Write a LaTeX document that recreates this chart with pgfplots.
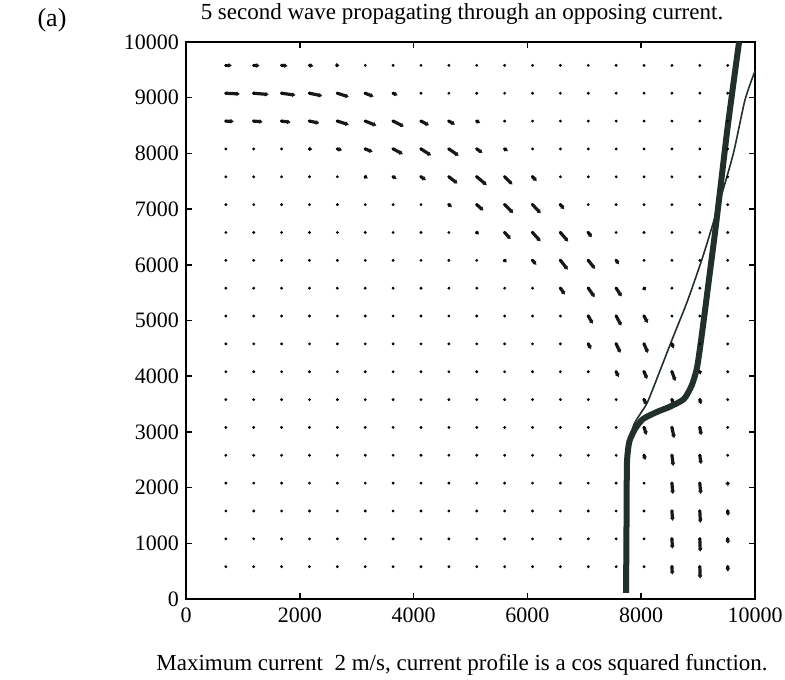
\documentclass[border=0pt]{standalone}
\usepackage{pgfplots}
\pgfplotsset{compat=1.18}
\usepackage{pgfplotstable}
\usetikzlibrary{arrows.meta}
\usepackage{fontspec}
\setmainfont{Liberation Serif}

\definecolor{raycol}{HTML}{22302C}
\definecolor{dotcol}{HTML}{7A7A7A}

% wave-number vectors on the grid (x, y, u, v); zero vectors are drawn as dots only
\pgfplotstableread{
X Y u v
700 9580 106 0
1190 9580 106 -5
1680 9580 106 -9
2170 9580 70 -12
2660 9580 35 -5
700 9080 247 -13
1190 9080 264 -23
1680 9080 245 -35
2170 9080 225 -48
2660 9080 202 -66
3150 9080 148 -60
3640 9080 80 -37
700 8580 141 -7
1190 8580 159 -14
1680 8580 158 -22
2170 8580 173 -37
2660 8580 202 -66
3150 8580 197 -80
3640 8580 189 -97
4130 8580 141 -75
4620 8580 107 -62
5110 8580 61 -36
2170 8080 52 -9
2660 8080 85 -23
3150 8080 131 -54
3640 8080 172 -92
4130 8080 178 -117
4620 8080 174 -123
5110 8080 101 -72
5600 8080 58 -41
3150 7580 46 -27
3640 7580 61 -36
4130 7580 87 -62
4620 7580 153 -121
5110 7580 176 -150
5600 7580 138 -140
6090 7580 75 -76
4620 7080 54 -46
5110 7080 118 -107
5600 7080 150 -152
6090 7080 145 -157
6580 7080 68 -82
5110 6580 40 -36
5600 6580 107 -120
6090 6580 142 -160
6580 6580 137 -164
7070 6580 61 -88
5600 6080 35 -40
6090 6080 68 -82
6580 6080 131 -169
7070 6080 120 -155
7560 6080 51 -73
6580 5580 81 -117
7070 5580 112 -161
7560 5580 96 -150
8050 5580 30 -45
7070 5080 80 -139
7560 5080 91 -174
8050 5080 66 -126
7070 4580 50 -95
7560 4580 75 -162
8050 4580 69 -165
8540 4580 30 -84
7560 4080 45 -97
8050 4080 55 -132
8540 4080 61 -168
9030 4080 14 -52
8050 3580 45 -97
8540 3580 36 -101
9030 3580 23 -86
8050 3080 44 -136
8540 3080 40 -193
9030 3080 25 -141
8050 2580 23 -86
8540 2580 24 -195
9030 2580 22 -160
8540 2080 17 -196
9030 2080 17 -196
9520 2080 5 -54
8540 1580 12 -179
9030 1580 11 -214
9520 1580 8 -89
8540 1080 9 -179
9030 1080 8 -232
9520 1080 5 -89
8540 580 7 -143
9030 580 7 -214
9520 580 4 -89
}\vectors

% ray path (thick)
\pgfplotstableread{
X Y
7733 110
7740 1000
7745 2000
7752 2500
7790 2820
7890 3050
8030 3230
8280 3360
8500 3450
8750 3590
8890 3840
8980 4150
9050 4630
9120 5170
9190 5730
9300 6600
9400 7450
9510 8400
9620 9250
9720 10000
}\raythick

% ray path (thin)
\pgfplotstableread{
X Y
7733 110
7740 1000
7745 2000
7756 2600
7800 2900
7880 3150
8000 3350
8130 3580
8540 4650
8820 5370
9100 6200
9385 7160
9620 8000
9824 8960
10000 9480
}\raythin

\begin{document}
\begin{tikzpicture}
\path[use as bounding box] (-93pt,-40pt) rectangle (299.5pt,299.5pt);
\begin{axis}[
  at={(0,0)}, anchor=south west,
  scale only axis,
  width=284.5pt, height=278.5pt,
  xmin=0, xmax=10000, ymin=0, ymax=10000,
  xtick={0,2000,...,10000}, ytick={0,1000,...,10000},
  xtick pos=both, ytick pos=both,
  tick align=inside,
  major tick length=3pt,
  axis line style={line width=0.8pt},
  every tick/.style={line width=0.8pt, black},
  scaled ticks=false,
  /pgf/number format/1000 sep={},
  /pgf/number format/assume math mode=true,
  ticklabel style={font=\fontsize{11}{13}\selectfont},
  xticklabel style={yshift=-1pt},
  clip=true,
]
% grid dots
\addplot[only marks, mark=*, mark size=0.5pt, draw=none, fill=dotcol] coordinates {
(700,580)(1190,580)(1680,580)(2170,580)(2660,580)(3150,580)(3640,580)(4130,580)(4620,580)(5110,580)(5600,580)(6090,580)(6580,580)(7070,580)(7560,580)(8050,580)(8540,580)(9030,580)(9520,580)
(700,1080)(1190,1080)(1680,1080)(2170,1080)(2660,1080)(3150,1080)(3640,1080)(4130,1080)(4620,1080)(5110,1080)(5600,1080)(6090,1080)(6580,1080)(7070,1080)(7560,1080)(8050,1080)(8540,1080)(9030,1080)(9520,1080)
(700,1580)(1190,1580)(1680,1580)(2170,1580)(2660,1580)(3150,1580)(3640,1580)(4130,1580)(4620,1580)(5110,1580)(5600,1580)(6090,1580)(6580,1580)(7070,1580)(7560,1580)(8050,1580)(8540,1580)(9030,1580)(9520,1580)
(700,2080)(1190,2080)(1680,2080)(2170,2080)(2660,2080)(3150,2080)(3640,2080)(4130,2080)(4620,2080)(5110,2080)(5600,2080)(6090,2080)(6580,2080)(7070,2080)(7560,2080)(8050,2080)(8540,2080)(9030,2080)(9520,2080)
(700,2580)(1190,2580)(1680,2580)(2170,2580)(2660,2580)(3150,2580)(3640,2580)(4130,2580)(4620,2580)(5110,2580)(5600,2580)(6090,2580)(6580,2580)(7070,2580)(7560,2580)(8050,2580)(8540,2580)(9030,2580)(9520,2580)
(700,3080)(1190,3080)(1680,3080)(2170,3080)(2660,3080)(3150,3080)(3640,3080)(4130,3080)(4620,3080)(5110,3080)(5600,3080)(6090,3080)(6580,3080)(7070,3080)(7560,3080)(8050,3080)(8540,3080)(9030,3080)(9520,3080)
(700,3580)(1190,3580)(1680,3580)(2170,3580)(2660,3580)(3150,3580)(3640,3580)(4130,3580)(4620,3580)(5110,3580)(5600,3580)(6090,3580)(6580,3580)(7070,3580)(7560,3580)(8050,3580)(8540,3580)(9030,3580)(9520,3580)
(700,4080)(1190,4080)(1680,4080)(2170,4080)(2660,4080)(3150,4080)(3640,4080)(4130,4080)(4620,4080)(5110,4080)(5600,4080)(6090,4080)(6580,4080)(7070,4080)(7560,4080)(8050,4080)(8540,4080)(9030,4080)(9520,4080)
(700,4580)(1190,4580)(1680,4580)(2170,4580)(2660,4580)(3150,4580)(3640,4580)(4130,4580)(4620,4580)(5110,4580)(5600,4580)(6090,4580)(6580,4580)(7070,4580)(7560,4580)(8050,4580)(8540,4580)(9030,4580)(9520,4580)
(700,5080)(1190,5080)(1680,5080)(2170,5080)(2660,5080)(3150,5080)(3640,5080)(4130,5080)(4620,5080)(5110,5080)(5600,5080)(6090,5080)(6580,5080)(7070,5080)(7560,5080)(8050,5080)(8540,5080)(9030,5080)(9520,5080)
(700,5580)(1190,5580)(1680,5580)(2170,5580)(2660,5580)(3150,5580)(3640,5580)(4130,5580)(4620,5580)(5110,5580)(5600,5580)(6090,5580)(6580,5580)(7070,5580)(7560,5580)(8050,5580)(8540,5580)(9030,5580)(9520,5580)
(700,6080)(1190,6080)(1680,6080)(2170,6080)(2660,6080)(3150,6080)(3640,6080)(4130,6080)(4620,6080)(5110,6080)(5600,6080)(6090,6080)(6580,6080)(7070,6080)(7560,6080)(8050,6080)(8540,6080)(9030,6080)(9520,6080)
(700,6580)(1190,6580)(1680,6580)(2170,6580)(2660,6580)(3150,6580)(3640,6580)(4130,6580)(4620,6580)(5110,6580)(5600,6580)(6090,6580)(6580,6580)(7070,6580)(7560,6580)(8050,6580)(8540,6580)(9030,6580)(9520,6580)
(700,7080)(1190,7080)(1680,7080)(2170,7080)(2660,7080)(3150,7080)(3640,7080)(4130,7080)(4620,7080)(5110,7080)(5600,7080)(6090,7080)(6580,7080)(7070,7080)(7560,7080)(8050,7080)(8540,7080)(9030,7080)(9520,7080)
(700,7580)(1190,7580)(1680,7580)(2170,7580)(2660,7580)(3150,7580)(3640,7580)(4130,7580)(4620,7580)(5110,7580)(5600,7580)(6090,7580)(6580,7580)(7070,7580)(7560,7580)(8050,7580)(8540,7580)(9030,7580)(9520,7580)
(700,8080)(1190,8080)(1680,8080)(2170,8080)(2660,8080)(3150,8080)(3640,8080)(4130,8080)(4620,8080)(5110,8080)(5600,8080)(6090,8080)(6580,8080)(7070,8080)(7560,8080)(8050,8080)(8540,8080)(9030,8080)(9520,8080)
(700,8580)(1190,8580)(1680,8580)(2170,8580)(2660,8580)(3150,8580)(3640,8580)(4130,8580)(4620,8580)(5110,8580)(5600,8580)(6090,8580)(6580,8580)(7070,8580)(7560,8580)(8050,8580)(8540,8580)(9030,8580)(9520,8580)
(700,9080)(1190,9080)(1680,9080)(2170,9080)(2660,9080)(3150,9080)(3640,9080)(4130,9080)(4620,9080)(5110,9080)(5600,9080)(6090,9080)(6580,9080)(7070,9080)(7560,9080)(8050,9080)(8540,9080)(9030,9080)(9520,9080)
(700,9580)(1190,9580)(1680,9580)(2170,9580)(2660,9580)(3150,9580)(3640,9580)(4130,9580)(4620,9580)(5110,9580)(5600,9580)(6090,9580)(6580,9580)(7070,9580)(7560,9580)(8050,9580)(8540,9580)(9030,9580)(9520,9580)
};
% vectors
\addplot[black!90, line width=1.6pt, line cap=round,
  quiver={u=\thisrow{u}, v=\thisrow{v}},
  -{Latex[length=1.6pt,width=2.6pt]}] table[x=X, y=Y] {\vectors};
% ray paths
\addplot[raycol, line width=3pt, smooth, tension=0.4] table[x=X, y=Y] {\raythick};
\addplot[raycol, line width=0.8pt, smooth, tension=0.4] table[x=X, y=Y] {\raythin};
\end{axis}
\node[font=\fontsize{11.5}{14}\selectfont] at (138pt,292.5pt) {5 second wave propagating through an opposing current.};
\node[font=\fontsize{13}{15}\selectfont] at (-67pt,289.5pt) {(a)};
\node[font=\fontsize{11.5}{14}\selectfont] at (138pt,-33pt) {Maximum current\ \ 2 m/s, current profile is a cos squared function.};
\end{tikzpicture}
\end{document}
